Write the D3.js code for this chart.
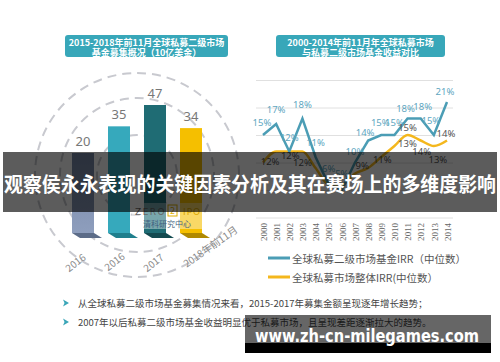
<!DOCTYPE html>
<html>
<head>
<meta charset="utf-8">
<script src="https://cdn.jsdelivr.net/npm/d3@7"></script>
<style>
  body { margin: 0; background: #fff; }
  svg { display: block; }
</style>
</head>
<body>
<div id="chart"></div>
<script>
// left chart: fundraising (billion USD)
const barCategories = ["2016", "2016", "2017", "2018年前11月"];
const barValues = [20, 35, 47, 34];

// right chart: IRR comparison
const years = ["2000", "2001", "2002", "2003", "2004", "2005", "2006", "2007",
               "2008", "2009", "2010", "2011", "2012", "2013", "2014"];
const secondaryIRR = [15, 17, 12, 18, 11, 6, 5, 10, 14, 15, 15, 18, 18, 15, 21];
const overallIRR = [10, 12, 12, 12, 9, 6, 6, 8, 9, 11, 13, 15, 14, 13, 14];
const irrTicks = [0, 5, 10, 15, 20, 25];

// label nudges (dx, dy) so the labels sit where the original has them
const blueNudge = [[-1,-13],[0,-15],[0,-14],[0,-14],[0,-15],[0,-16],[0,-17],[0,-11],
                   [-3,-8],[-1,-13],[0,-13],[-2,-10],[2,-12],[-3,-15],[-2,-11]];
const yellowNudge = [null,[-6,10],[1,4],[0,11],null,null,null,null,
                     [-6,-3],[1,2],[13,-3],[0,-8],[1,11],[4,13],[-1,-7]];

const cjk = "'Noto Sans CJK SC', 'Noto Sans', sans-serif";

const svg = d3.select("#chart").append("svg")
    .attr("width", 500).attr("height", 362);

svg.append("rect").attr("width", 500).attr("height", 362).attr("fill", "#fff");

// ---------- title boxes ----------
function titleBox(x, w, lines) {
    svg.append("rect")
        .attr("x", x).attr("y", 35).attr("width", w).attr("height", 22)
        .attr("rx", 3).attr("fill", "#38a7b9");
    lines.forEach((t, i) => {
        svg.append("text")
            .attr("x", x + w / 2).attr("y", 42 + i * 10)
            .attr("text-anchor", "middle").attr("dominant-baseline", "central")
            .attr("fill", "#fff").style("font", `bold 9px ${cjk}`)
            .text(t);
    });
}
titleBox(65, 163, ["2015-2018年前11月全球私募二级市场", "基金募集概况（10亿美金）"]);
titleBox(276, 169, ["2000-2014年前11月年全球私募市场", "与私募二级市场基金收益对比"]);

// ---------- left chart ----------
const cx = 137, cy = 175;
[40, 77, 102].forEach(r => {
    svg.append("circle")
        .attr("cx", cx).attr("cy", cy).attr("r", r)
        .attr("fill", "none").attr("stroke", "#c8c9cf")
        .attr("stroke-width", 2).attr("stroke-dasharray", "9 6");
});

const xb = d3.scaleBand()
    .domain(d3.range(barValues.length))
    .range([72, 202])
    .paddingInner(0.389)
    .paddingOuter(0);

const yb = d3.scaleLinear().domain([-25, 47]).range([233, 105]);

const defs = svg.append("defs");
const g1 = defs.append("linearGradient").attr("id", "bar1")
    .attr("x1", 0).attr("y1", 0).attr("x2", 0).attr("y2", 1);
g1.append("stop").attr("offset", "0%").attr("stop-color", "#7686a5");
g1.append("stop").attr("offset", "100%").attr("stop-color", "#8e9ebd");

const barFill = ["url(#bar1)", "#36a9bc", "#1f6c74", "#f5bf00"];
const footFill = ["#5c6c88", "#1f7f8d", "#134a50", "#b08900"];

const bars = svg.append("g");
bars.selectAll("path.foot")
    .data(barValues)
    .join("path")
    .attr("class", "foot")
    .attr("d", (d, i) => {
        const x0 = xb(i), x1 = xb(i) + xb.bandwidth(), b = yb(-25);
        return `M${x0},${b}L${x1},${b}L${x1 + 8},${b + 5}L${x0 + 8},${b + 5}Z`;
    })
    .attr("fill", (d, i) => footFill[i]);

bars.selectAll("rect")
    .data(barValues)
    .join("rect")
    .attr("x", (d, i) => xb(i))
    .attr("y", d => yb(d))
    .attr("width", xb.bandwidth())
    .attr("height", d => yb(-25) - yb(d))
    .attr("fill", (d, i) => barFill[i]);

bars.selectAll("text")
    .data(barValues)
    .join("text")
    .attr("x", (d, i) => xb(i) + xb.bandwidth() / 2)
    .attr("y", d => yb(d) - 12)
    .attr("text-anchor", "middle").attr("dominant-baseline", "central")
    .attr("fill", "#777").style("font", "13px 'Noto Sans', sans-serif")
    .text(d => d);

// category labels around the lower arc
const catNudge = [[-8, 29], [-5, 28], [-2, 29], [19, 13]];
svg.append("g").selectAll("text")
    .data(barCategories)
    .join("text")
    .attr("transform", (d, i) => {
        const x = xb(i) + xb.bandwidth() / 2 + catNudge[i][0];
        const y = yb(-25) + catNudge[i][1];
        return `translate(${x},${y}) rotate(${i === 3 ? -35 : -38})`;
    })
    .attr("text-anchor", "middle").attr("dominant-baseline", "central")
    .attr("fill", "#888").style("font", `10px ${cjk}`)
    .text(d => d);

// ZERO2IPO logo on a faint white backing
const logo = svg.append("g");
logo.append("rect").attr("x", 132).attr("y", 203).attr("width", 70).attr("height", 26)
    .attr("fill", "#fff").attr("opacity", 0.4);
logo.append("text").attr("x", 135).attr("y", 214.5)
    .attr("fill", "#666").attr("letter-spacing", 1.5)
    .style("font", "9px 'DejaVu Sans', sans-serif").text("ZERO");
logo.append("rect").attr("x", 168).attr("y", 205).attr("width", 9).attr("height", 11)
    .attr("fill", "none").attr("stroke", "#e0b000").attr("stroke-width", 1);
logo.append("text").attr("x", 172.5).attr("y", 214)
    .attr("text-anchor", "middle").attr("fill", "#e0b000")
    .style("font", "8px 'DejaVu Sans', sans-serif").text("2");
logo.append("text").attr("x", 183).attr("y", 214.5)
    .attr("fill", "#dcaa00").attr("letter-spacing", 1)
    .style("font", "9px 'DejaVu Sans', sans-serif").text("IPO");
logo.append("text").attr("x", 143).attr("y", 223.5)
    .attr("dominant-baseline", "central").attr("fill", "#3f5f80")
    .style("font", `8px ${cjk}`).text("清科研究中心");

// ---------- right chart ----------
const xl = d3.scalePoint().domain(years).range([263, 447]);
const yl = d3.scaleLinear().domain([0, 25]).range([217.5, 80]);

svg.append("g")
    .attr("transform", "translate(256,0)")
    .call(d3.axisLeft(yl).tickValues(irrTicks).tickSize(-197).tickFormat(""))
    .call(g => g.select(".domain").remove())
    .call(g => g.selectAll(".tick line").attr("stroke", "#e0e0e0").attr("stroke-width", 1));

svg.append("g")
    .attr("transform", "translate(0,223)")
    .call(d3.axisBottom(xl).tickSize(0))
    .call(g => g.select(".domain").remove())
    .call(g => g.selectAll(".tick text")
        .attr("transform", "rotate(-90)")
        .attr("x", 0).attr("y", 0).attr("dy", "0.35em")
        .attr("text-anchor", "end")
        .attr("fill", "#666")
        .style("font", "9px 'Liberation Serif', serif"));

const blueLine = d3.line().x((d, i) => xl(years[i])).y(d => yl(d));
const yellowLine = d3.line().x((d, i) => xl(years[i])).y(d => yl(d)).curve(d3.curveMonotoneX);

svg.append("path").datum(overallIRR)
    .attr("d", yellowLine).attr("fill", "none")
    .attr("stroke", "#f4b71d").attr("stroke-width", 2.5);
svg.append("path").datum(secondaryIRR)
    .attr("d", blueLine).attr("fill", "none")
    .attr("stroke", "#4b9db5").attr("stroke-width", 2.5).attr("stroke-linejoin", "miter");

svg.append("g").selectAll("text")
    .data(secondaryIRR)
    .join("text")
    .attr("x", (d, i) => xl(years[i]) + blueNudge[i][0])
    .attr("y", (d, i) => yl(d) + blueNudge[i][1])
    .attr("text-anchor", "middle").attr("dominant-baseline", "central")
    .attr("fill", "#5ea6bf").style("font", "9.5px 'Noto Sans', sans-serif")
    .text(d => d + "%");

svg.append("g").selectAll("text")
    .data(overallIRR.map((v, i) => ({ v, i })).filter(d => yellowNudge[d.i]))
    .join("text")
    .attr("x", d => xl(years[d.i]) + yellowNudge[d.i][0])
    .attr("y", d => yl(d.v) + yellowNudge[d.i][1])
    .attr("text-anchor", "middle").attr("dominant-baseline", "central")
    .attr("fill", "#555").style("font", "9.5px 'Noto Sans', sans-serif")
    .text(d => d.v + "%");

// legend
const legend = [
    { name: "全球私募二级市场基金IRR（中位数）", color: "#4b9db5" },
    { name: "全球私募市场整体IRR(中位数）", color: "#f4b71d" }
];
legend.forEach((d, i) => {
    const y = 258 + i * 19;
    svg.append("line").attr("x1", 268).attr("x2", 290).attr("y1", y).attr("y2", y)
        .attr("stroke", d.color).attr("stroke-width", 3);
    svg.append("text").attr("x", 292).attr("y", y)
        .attr("dominant-baseline", "central").attr("fill", "#555")
        .style("font", `10.5px ${cjk}`).text(d.name);
});

// ---------- bullet notes ----------
const notes = [
    "从全球私募二级市场基金募集情况来看，2015-2017年募集金额呈现逐年增长趋势；",
    "2007年以后私募二级市场基金收益明显优于私募市场，且呈现差距逐渐拉大的趋势。"
];
notes.forEach((t, i) => {
    const y = 303 + i * 19;
    svg.append("path")
        .attr("d", `M63,${y - 3.5}L69,${y}L63,${y + 3.5}L64.5,${y}Z`)
        .attr("fill", "#3aa6b8");
    svg.append("text").attr("x", 78).attr("y", y)
        .attr("dominant-baseline", "central").attr("fill", "#444")
        .style("font", `9.5px ${cjk}`).text(t);
});

// ---------- overlay banner ----------
svg.append("rect").attr("x", 3).attr("y", 152).attr("width", 494).attr("height", 60)
    .attr("fill", "rgba(0,0,0,0.64)");
svg.append("text").attr("x", 250).attr("y", 183.5)
    .attr("text-anchor", "middle").attr("dominant-baseline", "central")
    .attr("fill", "#fff").style("font", `bold 20px ${cjk}`)
    .attr("textLength", 492).attr("lengthAdjust", "spacingAndGlyphs")
    .text("观察侯永永表现的关键因素分析及其在赛场上的多维度影响");

// watermark
svg.append("rect").attr("x", 245).attr("y", 315).attr("width", 246).attr("height", 28)
    .attr("fill", "rgba(0,0,0,0.6)");
svg.append("rect").attr("x", 245).attr("y", 343).attr("width", 246).attr("height", 10)
    .attr("fill", "#000");
svg.append("text").attr("x", 255).attr("y", 342)
    .attr("fill", "#fff").style("font", "bold 17px 'DejaVu Sans', sans-serif")
    .attr("textLength", 224).attr("lengthAdjust", "spacingAndGlyphs")
    .text("www.zh-cn-milegames.com");
</script>
</body>
</html>
